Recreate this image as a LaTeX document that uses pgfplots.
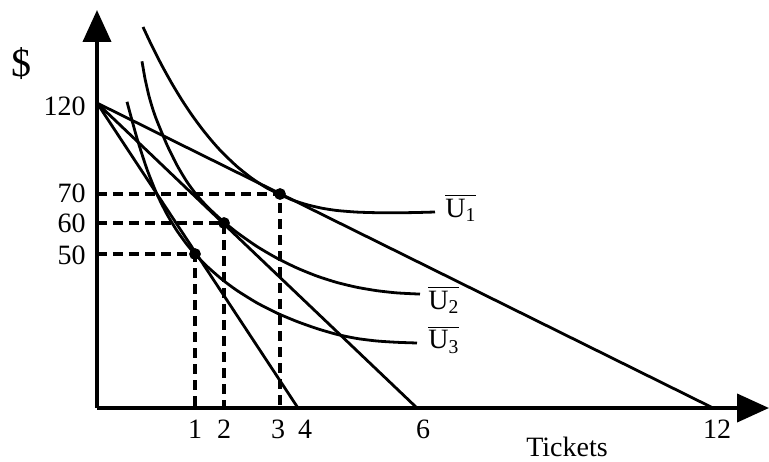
\documentclass[border=0pt]{standalone}
\usepackage{fontspec}
\setmainfont{Liberation Serif}
\usepackage{pgfplots}
\pgfplotsset{compat=1.18}
\usetikzlibrary{arrows.meta}
\begin{document}
\fontsize{14pt}{17pt}\selectfont
\begin{tikzpicture}
\useasboundingbox (-48.5pt,-26.5pt) rectangle (336pt,204pt);
\begin{axis}[
  x=0.5pt, y=0.5pt,
  xmin=0, xmax=672, ymin=0, ymax=398,
  axis lines=left,
  axis line style={line width=2pt, -{Triangle[length=16pt,width=14pt]}},
  clip=false,
  xtick={98,127,181,208,326,620},
  xticklabels={1,2,3,4,6,12},
  ytick={153,185,215,302},
  yticklabels={50,60,70,120},
  major tick length=0pt,
  tick style={draw=none},
  /pgf/number format/assume math mode=true,
  xticklabel style={anchor=base, yshift=-15pt, inner sep=0pt},
  yticklabel style={anchor=east, xshift=-5.5pt, inner sep=0pt},
  every axis plot/.append style={line width=1.4pt, black},
]
% budget lines
\addplot[no marks] coordinates {(0,305) (201,0)};
\addplot[no marks] coordinates {(0,305) (320,0)};
\addplot[no marks] coordinates {(0,305) (616,0)};
% indifference curves
\addplot[no marks, smooth, tension=0.4] coordinates {(46,381.0) (55,361.9) (65,342.3) (75,324.3) (85,307.8) (95,292.8) (105,279.2) (115,266.9) (125,255.8) (140,241.5) (155,229.6) (170,219.9) (183,213.6) (195,208.1) (210,203.3) (225,199.8) (240,197.5) (260,195.9) (280,195.3) (300,195.2) (320,195.5) (338,196)};
\addplot[no marks, smooth, tension=0.4] coordinates {(45,346.7) (48,329.5) (52,311.9) (56,298.3) (60,287.1) (70,263.1) (80,242.8) (90,226.1) (100,212.6) (110,201.6) (120,192.1) (127,186.0) (140,175.5) (160,161.5) (180,149.8) (200,140.0) (220,131.9) (240,125.5) (260,120.7) (280,117.3) (300,115.1) (323,113.9)};
\addplot[no marks, smooth, tension=0.4] coordinates {(30,306.2) (40,269.7) (50,238.7) (60,213.7) (70,193.7) (80,177.2) (90,163.4) (98,154.0) (110,141.7) (125,128.6) (140,117.5) (160,105.1) (180,94.9) (200,86.5) (220,79.4) (240,73.6) (260,69.5) (280,67.0) (300,65.7) (320,65.0)};
% dashed guides
\addplot[no marks, line width=1.8pt, dash pattern=on 5pt off 3pt] coordinates {(0,214) (183,214) (183,0)};
\addplot[no marks, line width=1.8pt, dash pattern=on 5pt off 3pt] coordinates {(0,185) (127,185) (127,0)};
\addplot[no marks, line width=1.8pt, dash pattern=on 5pt off 3pt] coordinates {(0,154) (98,154) (98,0)};
% tangency points
\addplot[only marks, mark=*, mark size=2.2pt] coordinates {(183,214) (127,185) (98,154)};
% labels
\node at (axis cs:-75,344) {\fontsize{20pt}{24pt}\selectfont\$};
\node at (axis cs:470,-39) {Tickets};
\node[anchor=west, inner sep=0pt] at (axis cs:348,200) {$\overline{\mbox{U\textsubscript{1}}}$};
\node[anchor=west, inner sep=0pt] at (axis cs:331,108) {$\overline{\mbox{U\textsubscript{2}}}$};
\node[anchor=west, inner sep=0pt] at (axis cs:331,68) {$\overline{\mbox{U\textsubscript{3}}}$};
\end{axis}
\end{tikzpicture}
\end{document}
